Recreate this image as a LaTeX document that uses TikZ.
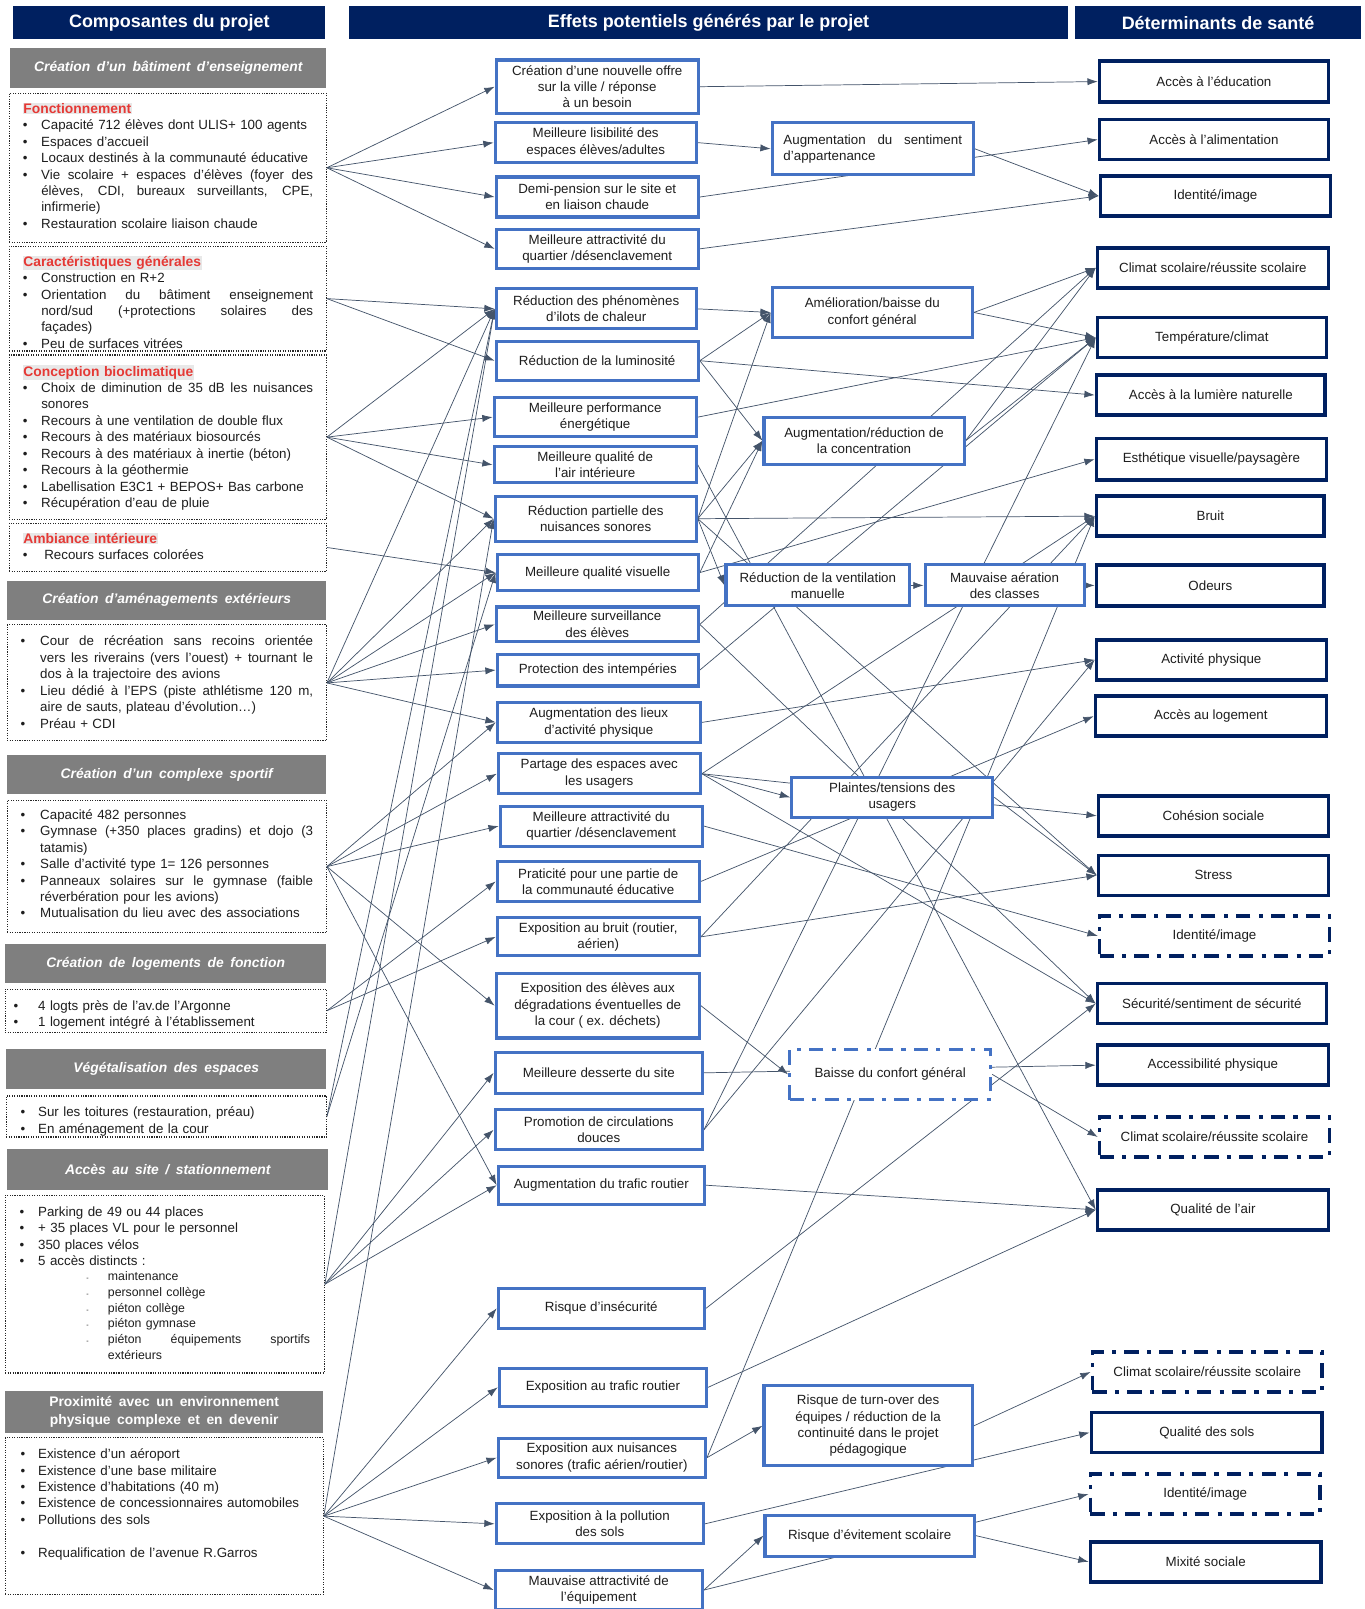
\documentclass[tikz,border=0pt]{standalone}
\usepackage{fontspec}
\setmainfont{Liberation Sans}
\newfontfamily\ghfont[WordSpace=1.7]{Liberation Sans}
\usetikzlibrary{arrows.meta}
\definecolor{navy}{RGB}{0,32,96}
\definecolor{midblue}{RGB}{68,114,196}
\definecolor{hdrgray}{RGB}{127,127,127}
\definecolor{conncol}{RGB}{68,84,106}
\definecolor{redt}{RGB}{229,57,53}
\definecolor{hl}{RGB}{232,232,232}
\definecolor{txt}{RGB}{30,30,30}
\newlength\bw
\newcommand\lbul[1]{\par\noindent\makebox[\bw][l]{\textbullet}#1}
\newcommand\lcon[1]{\par\noindent\hspace*{\bw}#1}
\newcommand\ljus[2]{\hbox to #1{\spaceskip=\fontdimen2\font plus 1fil\relax #2}}
\newcommand\ltit[1]{\par\noindent{\setlength\fboxsep{0.6pt}\colorbox{hl}{\color{redt}\bfseries\fontsize{13.5}{16}\selectfont #1}}}
\newcommand\lsub[1]{\par\noindent\hspace*{65pt}\makebox[21pt][l]{\fontsize{7}{8}\selectfont -}#1}
\newcommand\lsubc[1]{\par\noindent\hspace*{86pt}#1}
\pgfdeclarelayer{back}
\pgfdeclarelayer{lines}
\pgfsetlayers{back,lines,main}
\begin{document}
\begin{tikzpicture}[x=1pt,y=-1pt,
  hdr/.style={fill=navy, text=white, font=\bfseries\fontsize{17.5}{20}\selectfont, inner sep=0pt},
  ghdr/.style={fill=hdrgray, text=white, font=\ghfont\bfseries\itshape\fontsize{13.5}{16}\selectfont, inner sep=0pt, align=center},
  ghdrb/.style={fill=hdrgray, text=white, font=\ghfont\bfseries\fontsize{13.5}{17}\selectfont, inner sep=0pt, align=center},
  dbox/.style={draw=black!85, line width=1.1pt, dash pattern=on 1.1pt off 1.3pt, inner sep=0pt},
  ltext/.style={text width=330pt, inner sep=0pt, anchor=base west, text=txt, font=\fontsize{13}{16}\selectfont},
  mid/.style={draw=midblue, line width=3pt, fill=white, inner sep=2pt, align=center, text=txt, font=\fontsize{13}{16}\selectfont},
  rgt/.style={draw=navy, line width=3.5pt, fill=white, inner sep=2pt, align=center, text=txt, font=\fontsize{13}{16}\selectfont},
  dd/.style={dash pattern=on 14pt off 8pt on 4pt off 8pt},
  conn/.style={draw=conncol, line width=0.7pt, -{Latex[length=10pt,width=7pt]}}
]
\begin{pgfonlayer}{back}
\fill[white] (0,0) rectangle (1330,1568);
\end{pgfonlayer}
\useasboundingbox (0,0) rectangle (1330,1568);

% ---------- headers ----------
\node[hdr, minimum width=304pt, minimum height=32pt] (H1) at (165,22) {Composantes du projet};
\node[hdr, minimum width=701pt, minimum height=32pt] (H2) at (690.5,22) {Effets potentiels générés par le projet};
\node[hdr, minimum width=278pt, minimum height=32pt] (H3) at (1187,22) {Déterminants de santé};

% ---------- left gray headers ----------
\node[ghdr, minimum width=308pt, minimum height=39pt] (G1) at (164,66.5) {Création d’un bâtiment d’enseignement};
\node[ghdr, minimum width=311pt, minimum height=38pt] (G2) at (162.5,585) {Création d’aménagements extérieurs};
\node[ghdr, minimum width=311pt, minimum height=38pt] (G3) at (162.5,755) {Création d’un complexe sportif};
\node[ghdr, minimum width=313pt, minimum height=38pt] (G4) at (161.5,939) {Création de logements de fonction};
\node[ghdr, minimum width=312pt, minimum height=39pt] (G5) at (162,1041.5) {Végétalisation des espaces};
\node[ghdr, minimum width=313pt, minimum height=40pt] (G6) at (163.5,1140) {Accès au site / stationnement};
\node[ghdrb, minimum width=310pt, minimum height=40pt] (G7) at (160,1376) {Proximité avec un environnement\\physique complexe et en devenir};

% ---------- left dotted boxes ----------
\node[dbox, minimum width=309pt, minimum height=145pt] (a) at (163.5,163.5) {};
\node[dbox, minimum width=309pt, minimum height=102pt] (b) at (163.5,291) {};
\node[dbox, minimum width=309pt, minimum height=160pt] (c) at (163.5,426) {};
\node[dbox, minimum width=309pt, minimum height=47pt] (d) at (163.5,533.5) {};
\node[dbox, minimum width=311pt, minimum height=113pt] (e) at (162.5,665.5) {};
\node[dbox, minimum width=311pt, minimum height=129pt] (f) at (162.5,844.5) {};
\node[dbox, minimum width=313pt, minimum height=42pt] (g) at (161.5,985) {};
\node[dbox, minimum width=312pt, minimum height=40pt] (h) at (162,1088) {};
\node[dbox, minimum width=311pt, minimum height=173pt] (i) at (160.5,1251.5) {};
\node[dbox, minimum width=310pt, minimum height=153pt] (j) at (160,1477.5) {};

% ---------- left texts (first line of each node is an empty line) ----------
\node[ltext] (ta) at (22,94.5) {\setlength\bw{18pt}\ltit{Fonctionnement}%
\lbul{Capacité 712 élèves dont ULIS+ 100 agents}%
\lbul{Espaces d’accueil}%
\lbul{Locaux destinés à la communauté éducative}%
\lbul{\ljus{265pt}{Vie scolaire + espaces d’élèves (foyer des}}%
\lcon{\ljus{265pt}{élèves, CDI, bureaux surveillants, CPE,}}%
\lcon{infirmerie)}%
\lbul{Restauration scolaire liaison chaude}};
\node[ltext] (tb) at (22,243.5) {\setlength\bw{18pt}\ltit{Caractéristiques générales}%
\lbul{Construction en R+2}%
\lbul{\ljus{265pt}{Orientation du bâtiment enseignement}}%
\lcon{\ljus{265pt}{nord/sud (+protections solaires des}}%
\lcon{façades)}%
\lbul{Peu de surfaces vitrées}};
\node[ltext] (tc) at (22,350.5) {\setlength\bw{18pt}\ltit{Conception bioclimatique}%
\lbul{\ljus{265pt}{Choix de diminution de 35 dB les nuisances}}%
\lcon{sonores}%
\lbul{Recours à une ventilation de double flux}%
\lbul{Recours à des matériaux biosourcés}%
\lbul{Recours à des matériaux à inertie (béton)}%
\lbul{Recours à la géothermie}%
\lbul{Labellisation E3C1 + BEPOS+ Bas carbone}%
\lbul{Récupération d’eau de pluie}};
\node[ltext] (td) at (22,513.5) {\setlength\bw{21pt}\ltit{Ambiance intérieure}%
\lbul{Recours surfaces colorées}};
\node[ltext] (te) at (20,613.5) {\setlength\bw{19pt}%
\lbul{\ljus{266pt}{Cour de récréation sans recoins orientée}}%
\lcon{\ljus{266pt}{vers les riverains (vers l’ouest) + tournant le}}%
\lcon{dos à la trajectoire des avions}%
\lbul{\ljus{266pt}{Lieu dédié à l’EPS (piste athlétisme 120 m,}}%
\lcon{aire de sauts, plateau d’évolution…)}%
\lbul{Préau + CDI}};
\node[ltext] (tf) at (20,782.5) {\setlength\bw{19pt}%
\lbul{Capacité 482 personnes}%
\lbul{\ljus{266pt}{Gymnase (+350 places gradins) et dojo (3}}%
\lcon{tatamis)}%
\lbul{Salle d’activité type 1= 126 personnes}%
\lbul{\ljus{266pt}{Panneaux solaires sur le gymnase (faible}}%
\lcon{réverbération pour les avions)}%
\lbul{Mutualisation du lieu avec des associations}};
\node[ltext] (tg) at (13,968.5) {\setlength\bw{24pt}%
\lbul{4 logts près de l’av.de l’Argonne}%
\lbul{1 logement intégré à l’établissement}};
\node[ltext] (th) at (20,1072.5) {\setlength\bw{17pt}%
\lbul{Sur les toitures (restauration, préau)}%
\lbul{En aménagement de la cour}};
\node[ltext] (ti) at (19,1169.5) {\setlength\bw{18pt}%
\lbul{Parking de 49 ou 44 places}%
\lbul{+ 35 places VL pour le personnel}%
\lbul{350 places vélos}%
\lbul{5 accès distincts :}%
{\fontsize{12}{15.3}\selectfont
\lsub{maintenance}%
\lsub{personnel collège}%
\lsub{piéton collège}%
\lsub{piéton gymnase}%
\lsub{\ljus{197pt}{piéton équipements sportifs}}%
\lsubc{extérieurs}\par}};
\node[ltext] (tj) at (20,1405.5) {\setlength\bw{17pt}%
\lbul{Existence d’un aéroport}%
\lbul{Existence d’une base militaire}%
\lbul{Existence d’habitations (40 m)}%
\lbul{Existence de concessionnaires automobiles}%
\lbul{Pollutions des sols}%
\par\mbox{}%
\lbul{Requalification de l’avenue R.Garros}};

% ---------- middle column ----------
\node[mid, minimum width=197pt, minimum height=52pt] (M1) at (582,84.5) {Création d’une nouvelle offre\\sur la ville / réponse\\à un besoin};
\node[mid, minimum width=196pt, minimum height=39pt] (M2) at (580.5,139) {Meilleure lisibilité des\\espaces élèves/adultes};
\node[mid, minimum width=197pt, minimum height=39pt] (M3) at (582,192) {Demi-pension sur le site et\\en liaison chaude};
\node[mid, minimum width=197pt, minimum height=38pt] (M4) at (582,242.5) {Meilleure attractivité du\\quartier /désenclavement};
\node[mid, minimum width=195pt, minimum height=39pt] (M5) at (581,301) {Réduction des phénomènes\\d’ilots de chaleur};
\node[mid, minimum width=197pt, minimum height=38pt] (M6) at (582,351.5) {Réduction de la luminosité};
\node[mid, minimum width=197pt, minimum height=38pt] (M7) at (580,406.5) {Meilleure performance\\énergétique};
\node[mid, minimum width=197pt, minimum height=35pt] (M8) at (580,453) {Meilleure qualité de\\l’air intérieure};
\node[mid, minimum width=196pt, minimum height=44pt] (M9) at (580.5,505.5) {Réduction partielle des\\nuisances sonores};
\node[mid, minimum width=196pt, minimum height=35pt] (M10) at (582.5,558) {Meilleure qualité visuelle};
\node[mid, minimum width=197pt, minimum height=34pt] (M11) at (582,608.5) {Meilleure surveillance\\des élèves};
\node[mid, minimum width=196pt, minimum height=31pt] (M12) at (582.5,653) {Protection des intempéries};
\node[mid, minimum width=198pt, minimum height=39pt] (M13) at (583.5,704) {Augmentation des lieux\\d’activité physique};
\node[mid, minimum width=197pt, minimum height=39pt] (M14) at (584,754) {Partage des espaces avec\\les usagers};
\node[mid, minimum width=197pt, minimum height=39pt] (M15) at (586,805) {Meilleure attractivité du\\quartier /désenclavement};
\node[mid, minimum width=197pt, minimum height=39pt] (M16) at (583,859) {Praticité pour une partie de\\la communauté éducative};
\node[mid, minimum width=197pt, minimum height=37pt] (M17) at (583,913) {Exposition au bruit (routier,\\aérien)};
\node[mid, minimum width=198pt, minimum height=63pt] (M18) at (582.5,980) {Exposition des élèves aux\\dégradations éventuelles de\\la cour ( ex. déchets)};
\node[mid, minimum width=202pt, minimum height=40pt] (M19) at (583.5,1045.5) {Meilleure desserte du site};
\node[mid, minimum width=202pt, minimum height=39pt] (M20) at (583.5,1101) {Promotion de circulations\\douces};
\node[mid, minimum width=201pt, minimum height=37pt] (M21) at (586,1155) {Augmentation du trafic routier};
\node[mid, minimum width=201pt, minimum height=39pt] (M22) at (586,1275) {Risque d’insécurité};
\node[mid, minimum width=202pt, minimum height=37pt] (M23) at (587.5,1352) {Exposition au trafic routier};
\node[mid, minimum width=202pt, minimum height=38pt] (M24) at (586.5,1420.5) {Exposition aux nuisances\\sonores (trafic aérien/routier)};
\node[mid, minimum width=202pt, minimum height=39pt] (M25) at (584.5,1485) {Exposition à la pollution\\des sols};
\node[mid, minimum width=202pt, minimum height=38pt] (M26) at (583.5,1549.5) {Mauvaise attractivité de\\l’équipement};

% ---------- intermediate ----------
\node[mid, minimum width=196pt, minimum height=51pt, align=left, text width=174pt] (S1) at (850.5,145) {\ljus{174pt}{Augmentation du sentiment}\\d’appartenance};
\node[mid, minimum width=195pt, minimum height=48pt] (S2) at (850,304.5) {Amélioration/baisse du\\confort général};
\node[mid, minimum width=195pt, minimum height=46pt] (S3) at (842,429.5) {Augmentation/réduction de\\la concentration};
\node[mid, minimum width=179pt, minimum height=40pt] (S4) at (797,570.5) {Réduction de la ventilation\\manuelle};
\node[mid, minimum width=155pt, minimum height=40pt] (S5) at (979,570.5) {Mauvaise aération\\des classes};
\node[mid, minimum width=196pt, minimum height=39pt] (S6) at (869.5,777) {Plaintes/tensions des\\usagers};
\node[mid, dd, minimum width=196pt, minimum height=49pt] (S7) at (867.5,1047) {Baisse du confort général};
\node[mid, minimum width=203pt, minimum height=78pt] (S8) at (846,1389.5) {Risque de turn-over des\\équipes / réduction de la\\continuité dans le projet\\pédagogique};
\node[mid, minimum width=204pt, minimum height=40pt] (S9) at (847.5,1496.5) {Risque d’évitement scolaire};

% ---------- right column ----------
\node[rgt, minimum width=223pt, minimum height=40pt] (R1) at (1183,79.5) {Accès à l’éducation};
\node[rgt, minimum width=223pt, minimum height=39pt] (R2) at (1183,136) {Accès à l’alimentation};
\node[rgt, minimum width=224pt, minimum height=39pt] (R3) at (1184.5,191) {Identité/image};
\node[rgt, minimum width=225pt, minimum height=39pt] (R4) at (1182,261) {Climat scolaire/réussite scolaire};
\node[rgt, minimum width=223pt, minimum height=39pt] (R5) at (1181,329) {Température/climat};
\node[rgt, minimum width=223pt, minimum height=39pt] (R6) at (1180,385) {Accès à la lumière naturelle};
\node[rgt, minimum width=224pt, minimum height=40pt] (R7) at (1180.5,447.5) {Esthétique visuelle/paysagère};
\node[rgt, minimum width=222pt, minimum height=39pt] (R8) at (1179.5,503) {Bruit};
\node[rgt, minimum width=222pt, minimum height=40pt] (R9) at (1179.5,570.5) {Odeurs};
\node[rgt, minimum width=224pt, minimum height=39pt] (R10) at (1180.5,643) {Activité physique};
\node[rgt, minimum width=225pt, minimum height=39pt] (R11) at (1180,698) {Accès au logement};
\node[rgt, minimum width=224pt, minimum height=39pt] (R12) at (1182.5,795) {Cohésion sociale};
\node[rgt, minimum width=224pt, minimum height=39pt] (R13) at (1182.5,853) {Stress};
\node[rgt, dd, minimum width=224pt, minimum height=39pt] (R14) at (1183.5,912) {Identité/image};
\node[rgt, minimum width=223pt, minimum height=39pt] (R15) at (1181,978) {Sécurité/sentiment de sécurité};
\node[rgt, minimum width=225pt, minimum height=39pt] (R16) at (1182,1038) {Accessibilité physique};
\node[rgt, dd, minimum width=224pt, minimum height=39pt] (R17) at (1183.5,1108) {Climat scolaire/réussite scolaire};
\node[rgt, minimum width=225pt, minimum height=39pt] (R18) at (1182,1179) {Qualité de l’air};
\node[rgt, dd, minimum width=224pt, minimum height=39pt] (R19) at (1176.5,1337) {Climat scolaire/réussite scolaire};
\node[rgt, minimum width=225pt, minimum height=39pt] (R20) at (1176,1396) {Qualité des sols};
\node[rgt, dd, minimum width=224pt, minimum height=39pt] (R21) at (1174.5,1456) {Identité/image};
\node[rgt, minimum width=225pt, minimum height=39pt] (R22) at (1175,1522) {Mixité sociale};

% ---------- connectors ----------
\begin{pgfonlayer}{lines}
\foreach \t in {M1,M2,M3,M4} \draw[conn] (a.east) -- (\t.west);
\foreach \t in {M5,M6} \draw[conn] (b.east) -- (\t.west);
\foreach \t in {M5,M7,M8,M9} \draw[conn] (c.east) -- (\t.west);
\draw[conn] (d.east) -- (M10.west);
\foreach \t in {M5,M9,M10,M11,M12,M13} \draw[conn] (e.east) -- (\t.west);
\foreach \t in {M13,M14,M15,M18,M21} \draw[conn] (f.east) -- (\t.west);
\foreach \t in {M16,M17} \draw[conn] (g.east) -- (\t.west);
\foreach \t in {M5,M10} \draw[conn] (h.east) -- (\t.west);
\foreach \t in {M5,M19,M20,M21} \draw[conn] (i.east) -- (\t.west);
\foreach \t in {M9,M22,M23,M24,M25,M26} \draw[conn] (j.east) -- (\t.west);
\foreach \s/\t in {M2/S1, M5/S2, M6/S2, M9/S2, M6/S3, M9/S3, M10/S3, M9/S4, S4/S5,
  M14/S6, M18/S7, M24/S8, M26/S9}
  \draw[conn] (\s.east) -- (\t.west);
\foreach \s/\t in {M1/R1, M3/R2, S1/R3, M4/R3, S2/R4, S3/R4, M11/R4, S2/R5, S3/R5,
  M7/R5, M12/R5, M20/R5, M6/R6, M10/R7, M9/R8, M14/R8, M17/R8, M24/R8, S5/R9,
  M13/R10, M20/R10, M16/R11, M14/R12, S6/R13, M9/R13, M17/R13, M15/R14, M11/R15,
  M14/R15, M22/R15, M19/R16, S7/R17, M8/R18, M21/R18, M23/R18, S8/R19, M25/R20,
  M26/R21, S9/R22}
  \draw[conn] (\s.east) -- (\t.west);
\end{pgfonlayer}
\end{tikzpicture}
\end{document}
